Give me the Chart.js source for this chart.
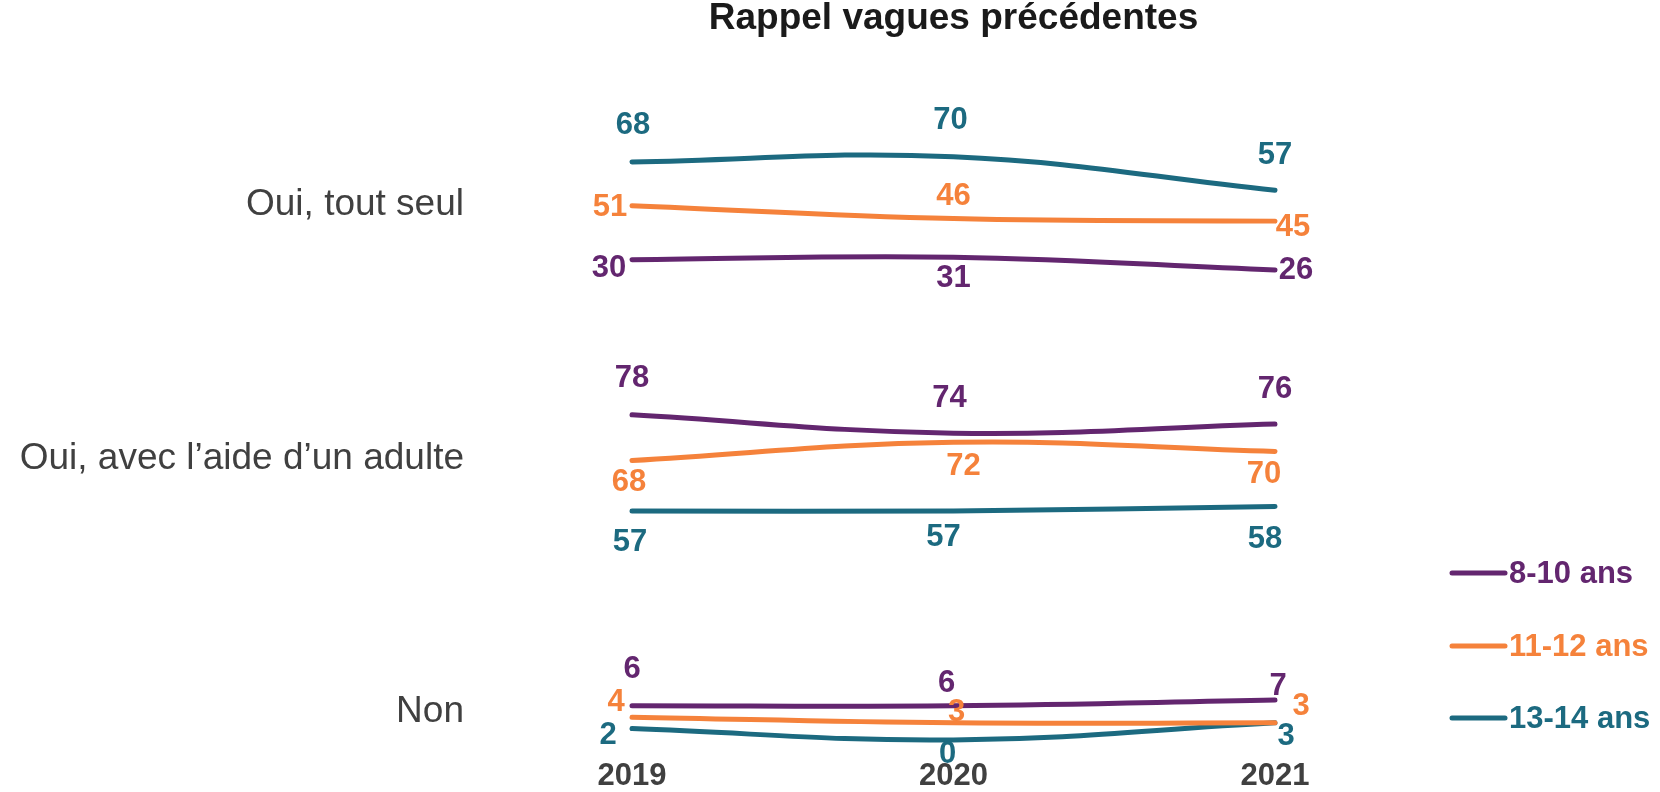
<!DOCTYPE html>
<html>
<head>
<meta charset="utf-8">
<script src="https://cdn.jsdelivr.net/npm/chart.js@4"></script>
<style>
  html, body { margin: 0; padding: 0; background: #fff; }
  #wrap { width: 1660px; height: 792px; }
</style>
</head>
<body>
<div id="wrap"><canvas id="chart"></canvas></div>
<script>
const years = ["2019", "2020", "2021"];
const groups = ["Oui, tout seul", "Oui, avec l’aide d’un adulte", "Non"];
const ageGroups = ["8-10 ans", "11-12 ans", "13-14 ans"];

// Oui, tout seul
const seul8to10 = [30, 31, 26];
const seul11to12 = [51, 46, 45];
const seul13to14 = [68, 70, 57];
// Oui, avec l'aide d'un adulte
const aide8to10 = [78, 74, 76];
const aide11to12 = [68, 72, 70];
const aide13to14 = [57, 57, 58];
// Non
const non8to10 = [6, 6, 7];
const non11to12 = [4, 3, 3];
const non13to14 = [2, 0, 3];

const colors = ["#63266F", "#F5823B", "#1C6A80"];
const font = '"Liberation Sans", Arial, sans-serif';

// where each value label sits around its point [dx, dy]
const labelOffsets = [
  [ [[-23, 9], [0, 21], [21, 0]], [[-22, 2], [0, -22], [18, 6]], [[1, -36], [-3, -36], [0, -35]] ],
  [ [[0, -36], [-4, -35], [0, -35]], [[-3, 22], [10, 24], [-11, 23]], [[-2, 31], [-10, 26], [-10, 33]] ],
  [ [[0, -36], [-7, -22], [3, -14]], [[-16, -15], [3, -10], [26, -16]], [[-24, 7], [-6, 15], [11, 14]] ]
];

const groupData = [
  [seul8to10, seul11to12, seul13to14],
  [aide8to10, aide11to12, aide13to14],
  [non8to10, non11to12, non13to14]
];
const axisIds = ["ySeul", "yAide", "yNon"];

const datasets = [];
groupData.forEach((rows, g) => {
  rows.forEach((values, s) => {
    datasets.push({
      label: ageGroups[s],
      data: values,
      yAxisID: axisIds[g],
      borderColor: colors[s],
      backgroundColor: colors[s],
      borderWidth: 5,
      borderCapStyle: "round",
      pointRadius: 0,
      tension: 0.4,
      clip: false,
      labelOffsets: labelOffsets[g][s]
    });
  });
});

// one axis per answer, stacked on the left, label on one tick
// (an invisible tick mark pushes the label away from the plot)
function groupAxis(g, min, max, tickAt, weight, stackWeight) {
  return {
    type: "linear",
    position: "left",
    stack: "answers",
    stackWeight: stackWeight,
    weight: weight,
    min: min,
    max: max,
    grid: {
      display: true,
      drawOnChartArea: false,
      drawTicks: true,
      tickLength: 164,
      color: "rgba(0,0,0,0)",
      tickColor: "rgba(0,0,0,0)"
    },
    border: { display: false },
    afterBuildTicks: (scale) => { scale.ticks = [{ value: tickAt }]; },
    afterFit: (scale) => { scale.width = 632; },
    ticks: {
      callback: () => groups[g],
      padding: 4,
      color: "#404040",
      font: { family: font, size: 37 }
    }
  };
}

const pointLabels = {
  id: "pointLabels",
  afterDatasetsDraw(chart) {
    const ctx = chart.ctx;
    ctx.save();
    ctx.font = "bold 31px " + font;
    ctx.textAlign = "center";
    ctx.textBaseline = "middle";
    chart.data.datasets.forEach((ds, i) => {
      const meta = chart.getDatasetMeta(i);
      meta.data.forEach((pt, j) => {
        const off = ds.labelOffsets[j];
        ctx.fillStyle = ds.borderColor;
        ctx.fillText(String(ds.data[j]), pt.x + off[0], pt.y + off[1]);
      });
    });
    ctx.restore();
  }
};

const sideLegend = {
  id: "sideLegend",
  afterDraw(chart) {
    const ctx = chart.ctx;
    const rows = [573, 646, 718];
    ctx.save();
    ctx.font = "bold 31px " + font;
    ctx.textBaseline = "middle";
    ageGroups.forEach((name, i) => {
      ctx.strokeStyle = colors[i];
      ctx.lineWidth = 5;
      ctx.lineCap = "round";
      ctx.beginPath();
      ctx.moveTo(1452, rows[i]);
      ctx.lineTo(1505, rows[i]);
      ctx.stroke();
      ctx.fillStyle = colors[i];
      ctx.fillText(name, 1509, rows[i] + 1);
    });
    ctx.restore();
  }
};

new Chart(document.getElementById("chart"), {
  type: "line",
  data: { labels: years, datasets: datasets },
  plugins: [pointLabels, sideLegend],
  options: {
    responsive: true,
    maintainAspectRatio: false,
    animation: false,
    layout: { padding: { left: 0, right: 385, top: 0, bottom: 0 } },
    plugins: {
      legend: { display: false },
      tooltip: { enabled: false },
      title: {
        display: true,
        text: "Rappel vagues précédentes",
        fullSize: false,
        color: "#1A1A1A",
        font: { family: font, size: 37, weight: "bold", lineHeight: 1 },
        padding: { top: 0, bottom: 94 }
      }
    },
    scales: {
      x: {
        type: "category",
        offset: false,
        grid: { display: false, tickLength: 0 },
        border: { display: false },
        ticks: {
          color: "#404040",
          padding: 0,
          font: { family: font, size: 31, weight: "bold", lineHeight: 1 }
        }
      },
      ySeul: groupAxis(0, 0, 80, 51.5, 3, 206),
      yAide: groupAxis(1, 50, 95, 68.5, 2, 206),
      yNon: groupAxis(2, -3.7, 34.6, 5, 1, 218)
    }
  }
});
</script>
</body>
</html>
